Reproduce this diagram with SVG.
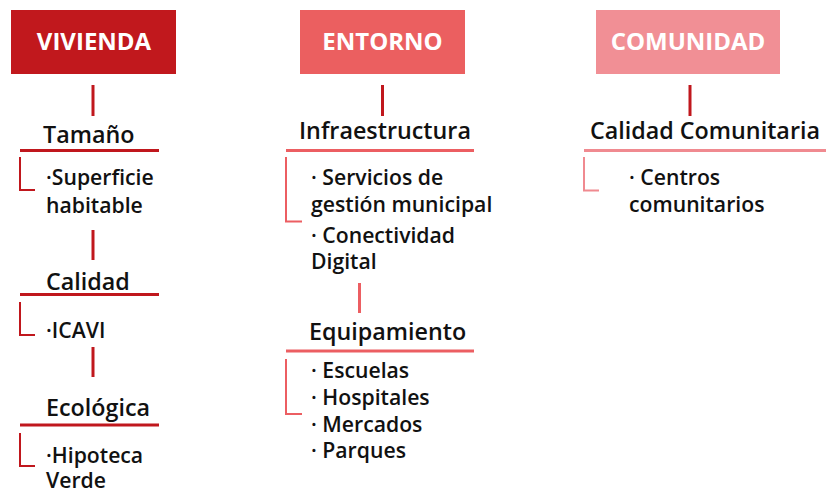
<svg xmlns="http://www.w3.org/2000/svg" width="828" height="492" viewBox="0 0 828 492">
<style>
.t{font-family:"Open Sans","Noto Sans",sans-serif;font-weight:700;font-size:24px;fill:#fff;text-anchor:middle}
.h{font-family:"Open Sans","Noto Sans",sans-serif;font-weight:600;font-size:23.3px;fill:#111}
.i{font-family:"Open Sans","Noto Sans",sans-serif;font-weight:600;font-size:21.2px;fill:#111}
.d{stroke:#C0171D;stroke-width:3;fill:none}
.s{stroke:#EC5E62;stroke-width:3;fill:none}
.p{stroke:#F08A90;stroke-width:3;fill:none}
.dt{stroke:#C0171D;stroke-width:2;fill:none}
.st{stroke:#EC5E62;stroke-width:2;fill:none}
.pt{stroke:#F08A90;stroke-width:2;fill:none}
</style>
<rect width="828" height="492" fill="#fff"/>
<g id="vivienda"><rect x="11" y="10" width="165" height="64" fill="#C1181D"/><text class="t" x="94" y="50">VIVIENDA</text></g>
<g id="entorno"><rect x="300" y="10" width="165" height="64" fill="#EB5F60"/><text class="t" x="382.5" y="50">ENTORNO</text></g>
<g id="comunidad"><rect x="596" y="10" width="184" height="64" fill="#F18F95"/><text class="t" x="688" y="50">COMUNIDAD</text></g>

<g id="tamano"><text class="h" x="43" y="143">Tamaño</text></g>
<g id="superficie"><text class="i" x="46" y="185">·Superficie</text><text class="i" x="46" y="213">habitable</text></g>
<g id="calidad"><text class="h" x="46" y="290">Calidad</text></g>
<g id="icavi"><text class="i" x="46" y="338">·ICAVI</text></g>
<g id="ecologica"><text class="h" x="46" y="416">Ecológica</text></g>
<g id="hipoteca"><text class="i" x="46" y="463">·Hipoteca</text><text class="i" x="46" y="488">Verde</text></g>

<g id="infraestructura"><text class="h" x="299" y="139">Infraestructura</text></g>
<g id="infra-items"><text class="i" x="311" y="185">· Servicios de</text><text class="i" x="311" y="212">gestión municipal</text><text class="i" x="311" y="243">· Conectividad</text><text class="i" x="311" y="269">Digital</text></g>
<g id="equipamiento"><text class="h" x="309" y="340">Equipamiento</text></g>
<g id="equip-items"><text class="i" x="311" y="378">· Escuelas</text><text class="i" x="311" y="405">· Hospitales</text><text class="i" x="311" y="432">· Mercados</text><text class="i" x="311" y="458">· Parques</text></g>

<g id="calidad-comunitaria"><text class="h" x="590" y="139">Calidad Comunitaria</text></g>
<g id="centros"><text class="i" x="629" y="185">· Centros</text><text class="i" x="629" y="212">comunitarios</text></g>

<g id="connectors">
<line class="d" x1="93" y1="85" x2="93" y2="116"/>
<line class="d" x1="20" y1="150.5" x2="159" y2="150.5"/>
<polyline class="dt" points="20,157 20,190 35,190"/>
<line class="d" x1="93" y1="230" x2="93" y2="260"/>
<line class="d" x1="20" y1="294.5" x2="159" y2="294.5"/>
<polyline class="dt" points="20,302 20,335 35,335"/>
<line class="d" x1="93" y1="347" x2="93" y2="377"/>
<line class="d" x1="20" y1="425" x2="159" y2="425"/>
<polyline class="dt" points="20,433 20,466 35,466"/>

<line class="d" x1="382.5" y1="85" x2="382.5" y2="116"/>
<line class="s" x1="286" y1="150.5" x2="474" y2="150.5"/>
<polyline class="st" points="286,157 286,221.5 302,221.5"/>
<line class="s" x1="359.5" y1="283" x2="359.5" y2="313"/>
<line class="s" x1="286" y1="351" x2="474" y2="351"/>
<polyline class="st" points="286,359 286,414 302,414"/>

<line class="d" x1="690" y1="85" x2="690" y2="116"/>
<line class="p" x1="584" y1="150.5" x2="826" y2="150.5"/>
<polyline class="pt" points="584,157 584,190.5 599,190.5"/>
</g>
</svg>
